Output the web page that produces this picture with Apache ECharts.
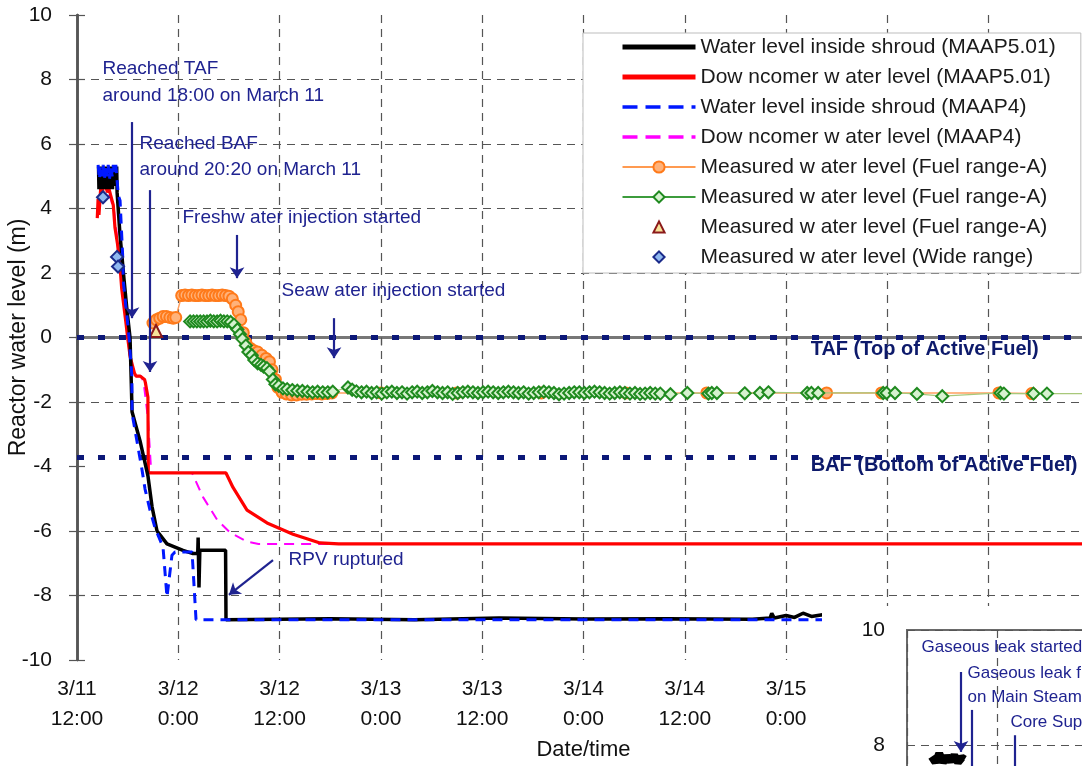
<!DOCTYPE html>
<html><head><meta charset="utf-8">
<script src="https://cdn.jsdelivr.net/npm/echarts@6/dist/echarts.min.js"></script>
<style>html,body{margin:0;padding:0;background:#fff}#c{width:1082px;height:766px}</style>
</head><body><div id="c"></div><script>
// x values: hours after 3/11 12:00 ; y values: reactor water level (m)
const xTickLabels = ['3/11\n12:00','3/12\n0:00','3/12\n12:00','3/13\n0:00','3/13\n12:00','3/14\n0:00','3/14\n12:00','3/15\n0:00'];
const gridYValues = [8, 6, 4, 2, -2, -6, -8];
const tafLevel = 0;
const bafLevel = -3.7;

const shroudMAAP5 = [[2.55,5.3],[2.6,4.6],[2.7,5.3],[2.8,4.7],[2.9,5.3],[3.0,4.6],[3.1,5.3],[3.2,4.8],[3.3,5.3],[3.4,4.6],[3.5,5.3],[3.6,4.7],[3.7,5.3],[3.8,4.6],[3.9,5.3],[4.0,4.8],[4.1,5.3],[4.2,4.6],[4.3,5.3],[4.4,4.7],[4.5,5.3],[4.6,4.8],[4.7,5.3],[4.75,4.5],[5.09,3.2],[5.57,1.8],[5.92,0.85],[6.28,0],[6.4,-1.1],[6.52,-2.3],[7.46,-3.2],[8.41,-4.3],[8.89,-5.25],[9.48,-6.0],[10.66,-6.4],[12.56,-6.6],[13.74,-6.7],[14.3,-6.7],[14.35,-6.2],[14.45,-7.75],[14.55,-6.6],[15.4,-6.6],[17.6,-6.6],[17.65,-8.75],[30,-8.72],[40,-8.75],[50,-8.7],[60,-8.73],[70,-8.72],[80,-8.74],[82.1,-8.7],[82.3,-8.55],[82.6,-8.7],[84,-8.62],[85,-8.68],[86,-8.55],[87,-8.65],[88.3,-8.6],[100,-8.7],[120,-8.7]];
const downcomerMAAP5 = [[2.4,3.7],[2.5,4.3],[2.6,3.8],[2.8,4.6],[3.0,4.3],[3.1,4.8],[3.4,4.7],[3.6,4.5],[3.8,4.6],[4.0,4.4],[4.3,4.1],[4.5,3.4],[4.8,2.9],[5.1,2.2],[5.3,1.5],[5.8,0.45],[6.0,0],[6.3,-0.6],[6.8,-1.1],[7.0,-1.2],[7.5,-1.2],[8.0,-1.3],[8.1,-1.4],[8.4,-1.85],[8.45,-4.2],[17.65,-4.2],[18.48,-4.65],[20.14,-5.35],[22.51,-5.75],[25.59,-6.1],[28.79,-6.37],[31,-6.4],[120,-6.4]];
const shroudMAAP4 = [[2.5,5.35],[2.65,4.9],[2.8,5.35],[2.95,5.0],[3.1,5.35],[3.25,4.9],[3.4,5.35],[3.55,5.0],[3.7,5.35],[3.85,4.9],[4.0,5.35],[4.15,5.0],[4.3,5.35],[4.45,5.1],[4.6,5.35],[4.9,4.4],[5.1,4.25],[5.4,2.6],[5.5,1.7],[6.0,0.45],[6.2,-0.1],[6.5,-1.2],[6.52,-2.35],[7.7,-4.1],[8.06,-4.7],[8.65,-5.35],[9.24,-5.9],[10.19,-6.5],[10.66,-8.05],[11.25,-6.75],[11.61,-6.65],[13.63,-6.65],[14.1,-8.75],[120,-8.75]];
const downcomerMAAP4 = [[2.5,4.0],[2.7,4.5],[3.0,4.7],[3.3,4.6],[3.6,4.5],[4.0,4.3],[4.4,3.9],[4.8,3.0],[5.2,2.0],[5.6,1.0],[6.0,0.1],[6.3,-0.7],[6.5,-1.2],[7.6,-1.2],[7.9,-1.4],[8.4,-2.5],[8.8,-4.2],[13.63,-4.2],[14.93,-4.95],[16.59,-5.65],[18.13,-6.05],[20.14,-6.33],[21.5,-6.4],[120,-6.4]];
const measuredOrange = [[9.0,0.45],[9.4,0.55],[9.8,0.6],[10.2,0.65],[10.6,0.65],[11.0,0.62],[11.4,0.6],[11.7,0.62],[12.4,1.3],[12.8,1.32],[13.2,1.3],[13.6,1.32],[14.0,1.3],[14.4,1.3],[14.8,1.32],[15.2,1.3],[15.6,1.3],[16.0,1.32],[16.4,1.3],[16.8,1.3],[17.2,1.32],[17.6,1.3],[18.0,1.28],[18.4,1.2],[18.8,1.0],[19.1,0.8],[19.4,0.55],[19.7,0.15],[20.0,-0.15],[20.5,-0.33],[20.9,-0.4],[21.4,-0.45],[21.9,-0.55],[22.4,-0.65],[22.8,-0.75],[23.1,-1.0],[23.5,-1.3],[23.8,-1.55],[24.3,-1.7],[24.8,-1.75],[25.4,-1.78],[26.0,-1.78],[26.6,-1.76],[27.2,-1.76],[27.8,-1.75],[28.4,-1.74],[29.0,-1.75],[29.6,-1.74],[30.2,-1.72],[36,-1.72],[45,-1.72],[55,-1.72],[65,-1.72],[74.6,-1.72],[88.8,-1.72],[95.3,-1.72],[109.2,-1.72],[113.1,-1.74]];
const measuredGreen = [[13.4,0.5],[13.8,0.5],[14.2,0.5],[14.6,0.5],[15.0,0.5],[15.4,0.5],[15.8,0.52],[16.2,0.5],[16.6,0.5],[17.0,0.52],[17.4,0.5],[17.8,0.5],[18.2,0.48],[18.6,0.4],[19.0,0.25],[19.3,0.1],[19.6,-0.05],[20.0,-0.25],[20.3,-0.45],[20.7,-0.55],[21.0,-0.7],[21.4,-0.8],[21.8,-0.85],[22.1,-0.9],[22.5,-0.95],[22.8,-1.05],[23.2,-1.3],[23.5,-1.45],[23.9,-1.5],[24.4,-1.58],[24.9,-1.6],[25.5,-1.63],[26.1,-1.65],[26.7,-1.66],[27.3,-1.68],[27.9,-1.7],[28.5,-1.68],[29.1,-1.7],[29.7,-1.7],[30.3,-1.68],[32.1,-1.55],[32.6,-1.62],[33.1,-1.67],[33.7,-1.7],[34.3,-1.68],[34.9,-1.72],[35.5,-1.7],[36.1,-1.74],[36.7,-1.7],[37.3,-1.68],[37.9,-1.72],[38.5,-1.7],[39.1,-1.74],[39.7,-1.7],[40.3,-1.68],[40.9,-1.72],[41.5,-1.7],[42.1,-1.66],[42.7,-1.7],[43.3,-1.72],[43.9,-1.7],[44.5,-1.75],[45.1,-1.72],[45.7,-1.7],[46.3,-1.68],[46.9,-1.7],[47.5,-1.72],[48.1,-1.7],[48.7,-1.68],[49.3,-1.7],[49.9,-1.72],[50.5,-1.7],[51.1,-1.68],[51.7,-1.7],[52.3,-1.72],[52.9,-1.7],[53.5,-1.74],[54.1,-1.72],[54.7,-1.7],[55.3,-1.68],[55.9,-1.7],[56.5,-1.72],[57.1,-1.76],[57.7,-1.74],[58.3,-1.72],[58.9,-1.7],[59.5,-1.7],[60.1,-1.72],[60.7,-1.7],[61.3,-1.68],[61.9,-1.7],[62.5,-1.72],[63.1,-1.74],[63.7,-1.72],[64.3,-1.7],[64.9,-1.72],[65.5,-1.74],[66.1,-1.72],[66.7,-1.75],[67.3,-1.74],[67.9,-1.72],[68.5,-1.74],[69.1,-1.74],[70.3,-1.76],[72.3,-1.72],[74.8,-1.74],[75.2,-1.72],[75.8,-1.72],[79.1,-1.73],[80.9,-1.72],[81.9,-1.7],[86.5,-1.72],[87.0,-1.72],[87.8,-1.72],[95.5,-1.72],[95.9,-1.72],[96.9,-1.72],[99.5,-1.75],[102.5,-1.82],[109.4,-1.72],[109.8,-1.74],[113.3,-1.74],[114.9,-1.74],[121,-1.74]];
const measuredTriangle = [[9.36,0.2]];
const measuredWide = [[3.08,4.35],[4.74,2.5],[4.86,2.2]];

// annotations (data coordinates of main chart)
const annotTexts = [
  [2.96, 8.33, 'Reached TAF'], [2.96, 7.49, 'around 18:00 on March 11'],
  [7.35, 6.0, 'Reached BAF'], [7.35, 5.19, 'around 20:20 on March 11'],
  [12.44, 3.71, 'Freshw ater injection started'],
  [24.17, 1.44, 'Seaw ater injection started'],
  [25.0, -6.9, 'RPV ruptured']
];
const levelTexts = [[86.85, -0.36, 'TAF (Top of Active Fuel)'], [86.85, -3.98, 'BAF (Bottom of Active Fuel)']];
const annotArrows = [
  [[6.52, 6.68], [6.52, 0.6]],
  [[8.65, 4.57], [8.65, -1.07]],
  [[18.96, 3.18], [18.96, 1.84]],
  [[30.45, 0.6], [30.45, -0.64]],
  [[23.22, -6.9], [18.0, -7.98]]
];

// inset (partially visible second chart)
const insetBlack = [[3.3,7.8],[3.8,7.7],[4.3,7.85],[4.8,7.7],[5.3,7.8],[5.8,7.72],[6.3,7.82],[6.8,7.7],[7.3,7.78],[7.7,7.75]];
const insetTexts = [[1.87, 9.70, 'Gaseous leak started'], [8.0, 9.25, 'Gaseous leak f'], [8.0, 8.83, 'on Main Steam'], [13.73, 8.4, 'Core Sup']];
const insetArrows = [[[7.2, 9.27], [7.2, 7.88]], [[8.67, 8.61], [8.67, 7.3]], [[14.4, 8.17], [14.4, 7.3]]];

const FONT = "'Liberation Sans', Arial, sans-serif";
const NAVY = '#1f2390';
const chart = echarts.init(document.getElementById('c'), null, {renderer: 'canvas'});

const arrowLine = (arr, z) => ({
  silent: true, z: z, symbol: ['none', 'arrow'], symbolSize: 11,
  lineStyle: {color: NAVY, width: 2.2, type: 'solid'}, label: {show: false},
  data: arr.map(a => [{coord: a[0]}, {coord: a[1]}])
});
const textPoints = (arr, style, z) => ({
  silent: true, z: z, symbol: 'circle', symbolSize: 1, itemStyle: {color: 'rgba(0,0,0,0)'},
  label: Object.assign({show: true, position: 'right', distance: 0, fontFamily: FONT}, style),
  data: arr.map(t => ({coord: [t[0], t[1]], label: {formatter: t[2]}}))
});

const legendNames = ['Water level inside shroud (MAAP5.01)', 'Dow ncomer w ater level (MAAP5.01)', 'Water level inside shroud (MAAP4)', 'Dow ncomer w ater level (MAAP4)', 'Measured w ater level (Fuel range-A)', 'Measured w ater level (Fuel range-A) ', 'Measured w ater level (Fuel range-A)  ', 'Measured w ater level (Wide range)'];
const hideSym = {opacity: 0};
const hideLine = {opacity: 0, width: 0};

const option = {
  animation: false,
  backgroundColor: '#fff',
  textStyle: {fontFamily: FONT},
  grid: [
    {left: 77, top: 15, width: 1013, height: 645, show: false, outerBoundsMode: 'none', containLabel: false},
    {left: 907, top: 630, width: 400, height: 575, show: true, z: 11, outerBoundsMode: 'none', containLabel: false, backgroundColor: '#fff', borderColor: '#6a6a6a', borderWidth: 2}
  ],
  graphic: {elements: [{type: 'rect', z: 10, silent: true, shape: {x: 822, y: 606, width: 270, height: 170}, style: {fill: '#fff'}}]},
  legend: {
    data: [
      {name: legendNames[0], itemStyle: hideSym, lineStyle: {width: 5}},
      {name: legendNames[1], itemStyle: hideSym, lineStyle: {width: 5}},
      {name: legendNames[2], itemStyle: hideSym, lineStyle: {width: 3.5, type: [15, 8]}},
      {name: legendNames[3], itemStyle: hideSym, lineStyle: {width: 3.5, type: [15, 8]}},
      {name: legendNames[4], lineStyle: {width: 2, color: '#ff9a50'}},
      {name: legendNames[5], lineStyle: {width: 2, color: '#3c9c3c'}},
      {name: legendNames[6], lineStyle: hideLine},
      {name: legendNames[7], lineStyle: hideLine}
    ],
    orient: 'vertical', left: 583, top: 33, z: 20,
    itemWidth: 73, itemHeight: 14, itemGap: 8,
    padding: [3, 22, 5, 37],
    backgroundColor: '#fff', borderColor: '#bdbdbd', borderWidth: 1,
    textStyle: {fontSize: 21, lineHeight: 22, color: '#1a1a1a', fontFamily: FONT}
  },
  xAxis: [
    {type: 'value', gridIndex: 0, min: 0, max: 120, interval: 12, position: 'bottom',
     name: 'Date/time', nameLocation: 'middle', nameGap: 79, nameMoveOverlap: false, nameTextStyle: {fontSize: 22, color: '#111', fontFamily: FONT},
     axisLine: {lineStyle: {color: '#555', width: 2.5}}, axisTick: {show: false},
     axisLabel: {fontSize: 21, lineHeight: 30, color: '#111', margin: 14, fontFamily: FONT,
       formatter: v => { const i = Math.round(v / 12); return i < xTickLabels.length ? xTickLabels[i] : ''; }},
     splitLine: {show: true, lineStyle: {color: '#555', width: 1.2, type: [8, 6]}}},
    {type: 'value', gridIndex: 0, min: 0, max: 120, interval: 12, position: 'top',
     axisLine: {lineStyle: {color: '#777', width: 3}}, axisTick: {inside: true, length: 8, lineStyle: {color: '#555', width: 1.2}},
     axisLabel: {show: false}, splitLine: {show: false}},
    {type: 'value', gridIndex: 1, min: 0, max: 53.33, interval: 12, z: 12,
     axisLine: {show: false}, axisTick: {show: false}, axisLabel: {show: false},
     splitLine: {show: true, lineStyle: {color: '#555', width: 1.2, type: [8, 6]}}}
  ],
  yAxis: [
    {type: 'value', gridIndex: 0, min: -10, max: 10, interval: 2, position: 'left',
     name: 'Reactor water level (m)', nameLocation: 'middle', nameGap: 47, nameMoveOverlap: false, nameTextStyle: {fontSize: 23, color: '#111', fontFamily: FONT},
     axisLine: {show: true, lineStyle: {color: '#555', width: 2.5}}, axisTick: {show: true, inside: true, length: 8, lineStyle: {color: '#555', width: 1.2}},
     axisLabel: {fontSize: 21, color: '#111', margin: 25, fontFamily: FONT}, splitLine: {show: false}},
    {type: 'value', gridIndex: 0, min: -10, max: 10, interval: 2, position: 'right',
     axisLine: {show: true, lineStyle: {color: '#555', width: 2.5}}, axisTick: {show: true, inside: true, length: 8, lineStyle: {color: '#555', width: 1.2}},
     axisLabel: {show: false}, splitLine: {show: false}},
    {type: 'value', gridIndex: 1, min: 0, max: 10, interval: 2, z: 12,
     axisLine: {show: false}, axisTick: {show: false},
     axisLabel: {fontSize: 21, color: '#111', margin: 22, fontFamily: FONT},
     splitLine: {show: true, lineStyle: {color: '#555', width: 1.2, type: [8, 6]}}}
  ],
  series: [
    {type: 'line', name: '_grid', xAxisIndex: 0, yAxisIndex: 0, data: [], z: 1, silent: true,
     markLine: {silent: true, z: 1, symbol: 'none', label: {show: false}, lineStyle: {color: '#555', width: 1.2, type: [8, 6]},
       data: gridYValues.map(v => ({yAxis: v}))}},
    {type: 'line', name: '_levels', xAxisIndex: 0, yAxisIndex: 0, data: [], z: 2, silent: true,
     markLine: {silent: true, z: 2, symbol: 'none', label: {show: false}, lineStyle: {color: '#0c1878', width: 5, type: [7, 14]},
       data: [{yAxis: tafLevel}, {yAxis: bafLevel}]}},
    {type: 'line', name: legendNames[3], data: downcomerMAAP4, symbol: 'none', z: 3,
     itemStyle: {color: '#ff00ff'}, lineStyle: {color: '#ff00ff', width: 2, type: [10, 7]}},
    {type: 'line', name: legendNames[1], data: downcomerMAAP5, symbol: 'none', z: 3,
     itemStyle: {color: '#ff0000'}, lineStyle: {color: '#ff0000', width: 3.2}},
    {type: 'line', name: legendNames[0], data: shroudMAAP5, symbol: 'none', z: 4,
     itemStyle: {color: '#000'}, lineStyle: {color: '#000', width: 3.5}},
    {type: 'line', name: legendNames[2], data: shroudMAAP4, symbol: 'none', z: 4,
     itemStyle: {color: '#0018ff'}, lineStyle: {color: '#0018ff', width: 3, type: [10, 7]}},
    {type: 'line', name: legendNames[4], data: measuredOrange, symbol: 'circle', symbolSize: 11, showAllSymbol: true, z: 5,
     itemStyle: {color: '#ffb27a', borderColor: '#ff7a1a', borderWidth: 2}, lineStyle: {color: '#ffa060', width: 1.5}},
    {type: 'line', name: legendNames[5], data: measuredGreen, symbol: 'diamond', symbolSize: 12, showAllSymbol: true, z: 6,
     itemStyle: {color: '#d6f2cf', borderColor: '#1f8a1f', borderWidth: 2}, lineStyle: {color: '#a8c87a', width: 1.2}},
    {type: 'line', name: legendNames[6], data: measuredTriangle, symbol: 'triangle', symbolSize: 12, z: 6,
     itemStyle: {color: '#f6e39a', borderColor: '#8b1a1a', borderWidth: 2}, lineStyle: {opacity: 0, width: 0}},
    {type: 'line', name: legendNames[7], data: measuredWide, symbol: 'diamond', symbolSize: 12, showAllSymbol: true, z: 6,
     itemStyle: {color: '#8fb8f0', borderColor: '#1a2a8a', borderWidth: 2}, lineStyle: {opacity: 0, width: 0}},
    {type: 'line', name: '_annot', xAxisIndex: 0, yAxisIndex: 0, data: [], z: 7, silent: true,
     markLine: arrowLine(annotArrows, 7),
     markPoint: textPoints(annotTexts, {fontSize: 19, color: NAVY}, 7)},
    {type: 'line', name: '_levelText', xAxisIndex: 0, yAxisIndex: 0, data: [], z: 7, silent: true,
     markPoint: textPoints(levelTexts, {fontSize: 20, fontWeight: 'bold', color: '#0d1a6b'}, 7)},
    {type: 'line', name: '_inset', xAxisIndex: 2, yAxisIndex: 2, data: insetBlack, z: 13, silent: true, symbol: 'none',
     lineStyle: {color: '#000', width: 8},
     markLine: arrowLine(insetArrows, 14),
     markPoint: textPoints(insetTexts, {fontSize: 17, color: NAVY}, 14)}
  ]
};
chart.setOption(option);
</script></body></html>
